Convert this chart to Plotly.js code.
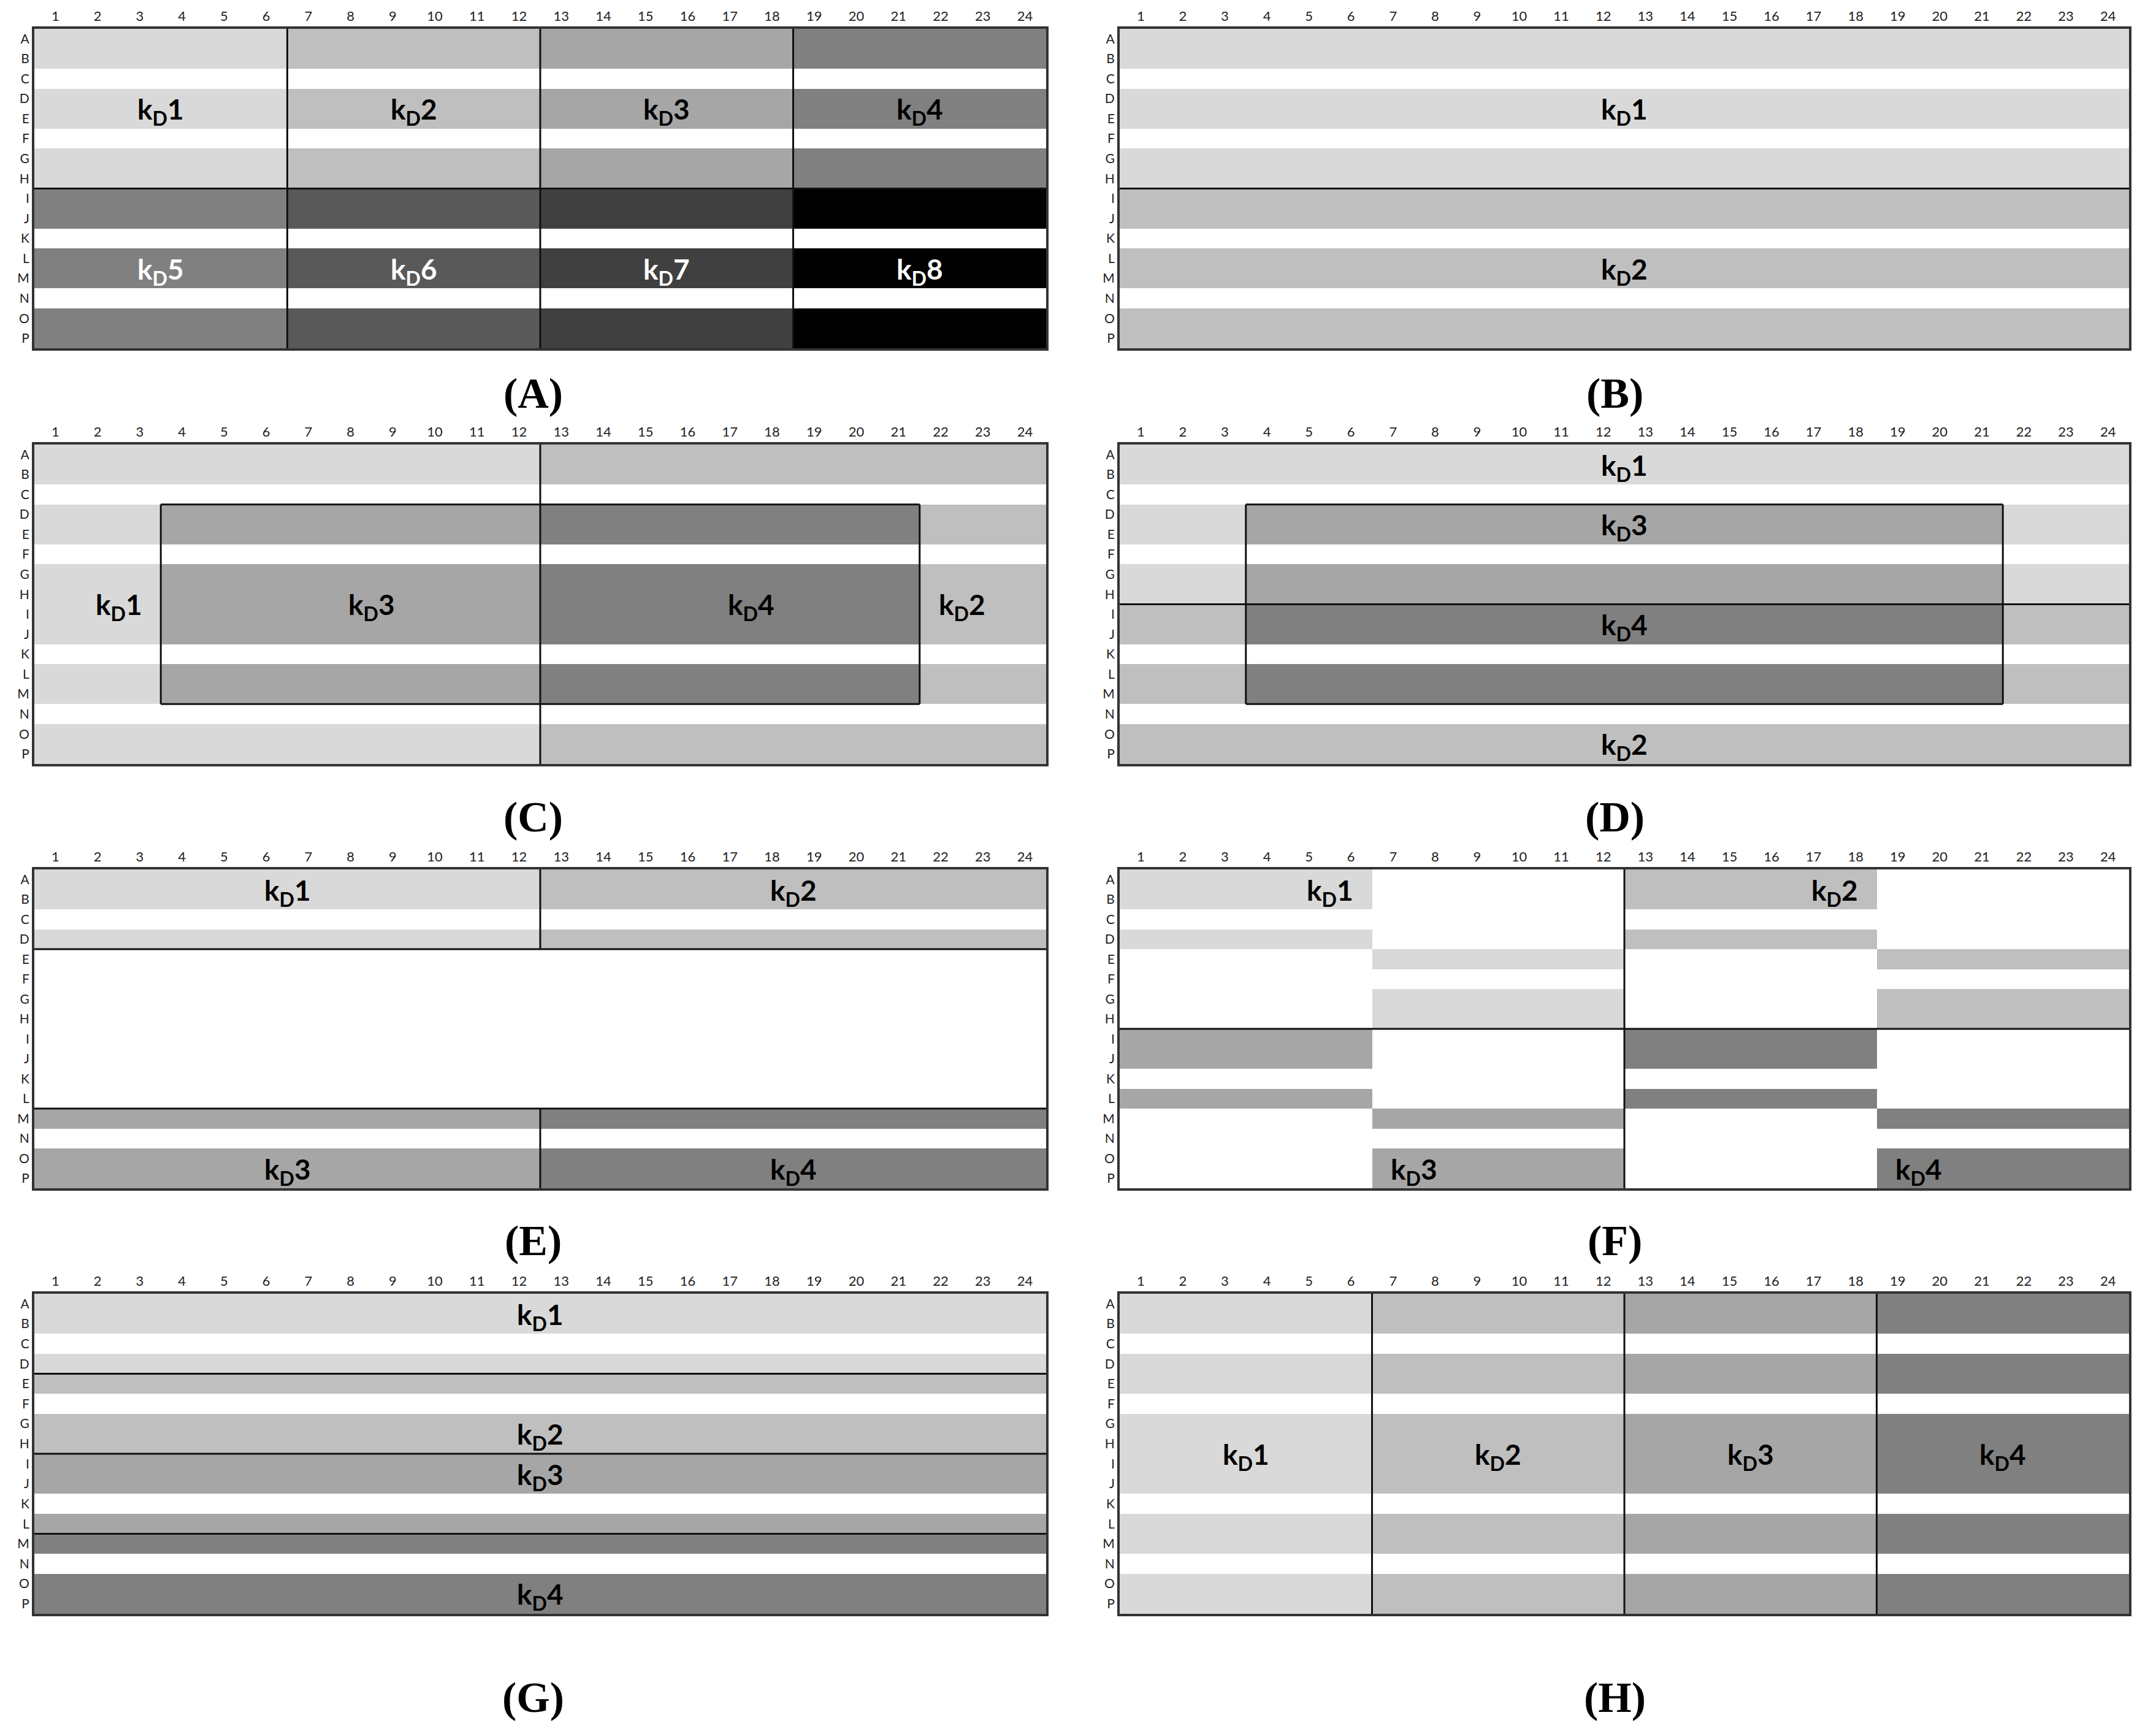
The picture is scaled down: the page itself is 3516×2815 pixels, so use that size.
<!DOCTYPE html>
<html>
<head>
<meta charset="utf-8">
<script src="https://cdn.plot.ly/plotly-3.0.1.min.js"></script>
<style>html,body{margin:0;padding:0;background:#fff;}#chart{width:3516px;height:2815px;}</style>
</head>
<body>
<div id="chart"></div>
<script>
// ---------- DATA ----------
const colLabels = ['1','2','3','4','5','6','7','8','9','10','11','12','13','14','15','16','17','18','19','20','21','22','23','24'];
const rowLabels = ['A','B','C','D','E','F','G','H','I','J','K','L','M','N','O','P'];
const panelNames = ['A','B','C','D','E','F','G','H'];
// fill level per well: 0 = empty, 1..8 = kD1..kD8
const kdColors = ['#ffffff','#d9d9d9','#bfbfbf','#a6a6a6','#808080','#808080','#595959','#404040','#000000'];

const mapA = [
 '111111222222333333444444','111111222222333333444444','000000000000000000000000',
 '111111222222333333444444','111111222222333333444444','000000000000000000000000',
 '111111222222333333444444','111111222222333333444444',
 '555555666666777777888888','555555666666777777888888','000000000000000000000000',
 '555555666666777777888888','555555666666777777888888','000000000000000000000000',
 '555555666666777777888888','555555666666777777888888'];
const groupsA = [
 '111111222222333333444444','111111222222333333444444','111111222222333333444444','111111222222333333444444',
 '111111222222333333444444','111111222222333333444444','111111222222333333444444','111111222222333333444444',
 '555555666666777777888888','555555666666777777888888','555555666666777777888888','555555666666777777888888',
 '555555666666777777888888','555555666666777777888888','555555666666777777888888','555555666666777777888888'];

const mapB = [
 '111111111111111111111111','111111111111111111111111','000000000000000000000000',
 '111111111111111111111111','111111111111111111111111','000000000000000000000000',
 '111111111111111111111111','111111111111111111111111',
 '222222222222222222222222','222222222222222222222222','000000000000000000000000',
 '222222222222222222222222','222222222222222222222222','000000000000000000000000',
 '222222222222222222222222','222222222222222222222222'];
const groupsB = [
 '111111111111111111111111','111111111111111111111111','111111111111111111111111','111111111111111111111111',
 '111111111111111111111111','111111111111111111111111','111111111111111111111111','111111111111111111111111',
 '222222222222222222222222','222222222222222222222222','222222222222222222222222','222222222222222222222222',
 '222222222222222222222222','222222222222222222222222','222222222222222222222222','222222222222222222222222'];

const mapC = [
 '111111111111222222222222','111111111111222222222222','000000000000000000000000',
 '111333333333444444444222','111333333333444444444222','000000000000000000000000',
 '111333333333444444444222','111333333333444444444222',
 '111333333333444444444222','111333333333444444444222','000000000000000000000000',
 '111333333333444444444222','111333333333444444444222','000000000000000000000000',
 '111111111111222222222222','111111111111222222222222'];
const groupsC = [
 '111111111111222222222222','111111111111222222222222','111111111111222222222222',
 '111333333333444444444222','111333333333444444444222','111333333333444444444222',
 '111333333333444444444222','111333333333444444444222','111333333333444444444222',
 '111333333333444444444222','111333333333444444444222','111333333333444444444222',
 '111333333333444444444222','111111111111222222222222','111111111111222222222222',
 '111111111111222222222222'];

const mapD = [
 '111111111111111111111111','111111111111111111111111','000000000000000000000000',
 '111333333333333333333111','111333333333333333333111','000000000000000000000000',
 '111333333333333333333111','111333333333333333333111',
 '222444444444444444444222','222444444444444444444222','000000000000000000000000',
 '222444444444444444444222','222444444444444444444222','000000000000000000000000',
 '222222222222222222222222','222222222222222222222222'];
const groupsD = [
 '111111111111111111111111','111111111111111111111111','111111111111111111111111',
 '111333333333333333333111','111333333333333333333111','111333333333333333333111',
 '111333333333333333333111','111333333333333333333111',
 '222444444444444444444222','222444444444444444444222','222444444444444444444222',
 '222444444444444444444222','222444444444444444444222',
 '222222222222222222222222','222222222222222222222222','222222222222222222222222'];

const mapE = [
 '111111111111222222222222','111111111111222222222222','000000000000000000000000',
 '111111111111222222222222','000000000000000000000000','000000000000000000000000',
 '000000000000000000000000','000000000000000000000000','000000000000000000000000',
 '000000000000000000000000','000000000000000000000000','000000000000000000000000',
 '333333333333444444444444','000000000000000000000000',
 '333333333333444444444444','333333333333444444444444'];
const groupsE = [
 '111111111111222222222222','111111111111222222222222','111111111111222222222222','111111111111222222222222',
 '999999999999999999999999','999999999999999999999999','999999999999999999999999','999999999999999999999999',
 '999999999999999999999999','999999999999999999999999','999999999999999999999999','999999999999999999999999',
 '333333333333444444444444','333333333333444444444444','333333333333444444444444','333333333333444444444444'];

const mapF = [
 '111111000000222222000000','111111000000222222000000','000000000000000000000000',
 '111111000000222222000000','000000111111000000222222','000000000000000000000000',
 '000000111111000000222222','000000111111000000222222',
 '333333000000444444000000','333333000000444444000000','000000000000000000000000',
 '333333000000444444000000','000000333333000000444444','000000000000000000000000',
 '000000333333000000444444','000000333333000000444444'];
const groupsF = [
 '111111111111222222222222','111111111111222222222222','111111111111222222222222','111111111111222222222222',
 '111111111111222222222222','111111111111222222222222','111111111111222222222222','111111111111222222222222',
 '333333333333444444444444','333333333333444444444444','333333333333444444444444','333333333333444444444444',
 '333333333333444444444444','333333333333444444444444','333333333333444444444444','333333333333444444444444'];

const mapG = [
 '111111111111111111111111','111111111111111111111111','000000000000000000000000',
 '111111111111111111111111','222222222222222222222222','000000000000000000000000',
 '222222222222222222222222','222222222222222222222222',
 '333333333333333333333333','333333333333333333333333','000000000000000000000000',
 '333333333333333333333333','444444444444444444444444','000000000000000000000000',
 '444444444444444444444444','444444444444444444444444'];
const groupsG = [
 '111111111111111111111111','111111111111111111111111','111111111111111111111111','111111111111111111111111',
 '222222222222222222222222','222222222222222222222222','222222222222222222222222','222222222222222222222222',
 '333333333333333333333333','333333333333333333333333','333333333333333333333333','333333333333333333333333',
 '444444444444444444444444','444444444444444444444444','444444444444444444444444','444444444444444444444444'];

const mapH = [
 '111111222222333333444444','111111222222333333444444','000000000000000000000000',
 '111111222222333333444444','111111222222333333444444','000000000000000000000000',
 '111111222222333333444444','111111222222333333444444',
 '111111222222333333444444','111111222222333333444444','000000000000000000000000',
 '111111222222333333444444','111111222222333333444444','000000000000000000000000',
 '111111222222333333444444','111111222222333333444444'];
const groupsH = [
 '111111222222333333444444','111111222222333333444444','111111222222333333444444','111111222222333333444444',
 '111111222222333333444444','111111222222333333444444','111111222222333333444444','111111222222333333444444',
 '111111222222333333444444','111111222222333333444444','111111222222333333444444','111111222222333333444444',
 '111111222222333333444444','111111222222333333444444','111111222222333333444444','111111222222333333444444'];

// label: [kD number, column (plate units), row (plate units)]
const labelsA = [[1,3.5,4.5],[2,9.5,4.5],[3,15.5,4.5],[4,21.5,4.5],[5,3.5,12.5],[6,9.5,12.5],[7,15.5,12.5],[8,21.5,12.5]];
const labelsB = [[1,12.5,4.5],[2,12.5,12.5]];
const labelsC = [[1,2.5,8.5],[3,8.5,8.5],[4,17.5,8.5],[2,22.5,8.5]];
const labelsD = [[1,12.5,1.5],[3,12.5,4.5],[4,12.5,9.5],[2,12.5,15.5]];
const labelsE = [[1,6.5,1.5],[2,18.5,1.5],[3,6.5,15.5],[4,18.5,15.5]];
const labelsF = [[1,5.5,1.5],[2,17.5,1.5],[3,7.5,15.5],[4,19.5,15.5]];
const labelsG = [[1,12.5,1.5],[2,12.5,7.5],[3,12.5,9.5],[4,12.5,15.5]];
const labelsH = [[1,3.5,8.5],[2,9.5,8.5],[3,15.5,8.5],[4,21.5,8.5]];

const maps = [mapA,mapB,mapC,mapD,mapE,mapF,mapG,mapH];
const groups = [groupsA,groupsB,groupsC,groupsD,groupsE,groupsF,groupsG,groupsH];
const labels = [labelsA,labelsB,labelsC,labelsD,labelsE,labelsF,labelsG,labelsH];

// ---------- LAYOUT GEOMETRY (pixels of the 3516x2815 page) ----------
const W = 3516, H = 2815;
const colX = [[56,1706],[1826,3472]];
const rowY = [[47,568],[725,1246],[1418,1938],[2110,2632]];
const tagX = [869, 2633];
const tagY = [641, 1332, 2023, 2768];

// ---------- BUILD ----------
const nLev = kdColors.length;
const colorscale = [];
kdColors.forEach((c,i)=>{ colorscale.push([i/nLev,c]); colorscale.push([(i+1)/nLev,c]); });

const xs = colLabels.map((_,i)=>i+1);
const ys = rowLabels.map((_,i)=>i+1);

const traces = [];
const annotations = [];
const layout = {
  width: W, height: H, margin:{l:0,r:0,t:0,b:0},
  paper_bgcolor:'#fff', plot_bgcolor:'#fff', showlegend:false,
  annotations: annotations, hovermode:false
};

function boundaryLines(g){
  const lx = [], ly = [];
  const nr = g.length, nc = g[0].length;
  for (let c=0; c<nc-1; c++){
    let start = -1;
    for (let r=0; r<=nr; r++){
      const diff = r<nr && g[r][c] !== g[r][c+1];
      if (diff && start<0) start = r;
      if (!diff && start>=0){ lx.push(c+1.5,c+1.5,null); ly.push(start+0.5,r+0.5,null); start=-1; }
    }
  }
  for (let r=0; r<nr-1; r++){
    let start = -1;
    for (let c=0; c<=nc; c++){
      const diff = c<nc && g[r][c] !== g[r+1][c];
      if (diff && start<0) start = c;
      if (!diff && start>=0){ lx.push(start+0.5,c+0.5,null); ly.push(r+1.5,r+1.5,null); start=-1; }
    }
  }
  return {x:lx, y:ly};
}

maps.forEach((m,i)=>{
  const k = i+1;
  const xa = 'x'+(k===1?'':k), ya = 'y'+(k===1?'':k);
  const col = i%2, row = Math.floor(i/2);
  const z = m.map(s=>s.split('').map(Number));
  traces.push({type:'heatmap', x:xs, y:ys, z:z, xaxis:xa, yaxis:ya,
    colorscale:colorscale, zmin:-0.5, zmax:nLev-0.5, showscale:false, hoverinfo:'skip'});
  const b = boundaryLines(groups[i]);
  traces.push({type:'scatter', mode:'lines', x:b.x, y:b.y, xaxis:xa, yaxis:ya,
    line:{color:'#111', width:3}, hoverinfo:'skip', connectgaps:false});
  const axx = 'xaxis'+(k===1?'':k), axy = 'yaxis'+(k===1?'':k);
  layout[axx] = {domain:[colX[col][0]/W, colX[col][1]/W], anchor:ya, side:'top',
    range:[0.5,24.5], tickmode:'array', tickvals:xs, ticktext:colLabels,
    ticks:'', showgrid:false, zeroline:false, showline:true, mirror:true,
    linecolor:'#333', linewidth:4, fixedrange:true,
    tickfont:{family:'Lato, "Open Sans", sans-serif', size:22, color:'#222'}};
  layout[axy] = {domain:[1-rowY[row][1]/H, 1-rowY[row][0]/H], anchor:xa,
    range:[16.5,0.5], tickmode:'array', tickvals:ys, ticktext:rowLabels,
    ticks:'', showgrid:false, zeroline:false, showline:true, mirror:true,
    linecolor:'#333', linewidth:4, fixedrange:true,
    tickfont:{family:'Lato, "Open Sans", sans-serif', size:21, color:'#222'}};
  labels[i].forEach(l=>{
    annotations.push({xref:xa, yref:ya, x:l[1], y:l[2], showarrow:false,
      text:'<b>k<sub>D</sub>'+l[0]+'</b>', xanchor:'center', yanchor:'middle', yshift:-4,
      font:{family:'Lato, "Open Sans", sans-serif', size:46, color: l[0]>=5 ? '#ffffff' : '#000000'}});
  });
  annotations.push({xref:'paper', yref:'paper', x:tagX[col]/W, y:1-tagY[row]/H,
    showarrow:false, text:'<b>('+panelNames[i]+')</b>', xanchor:'center', yanchor:'middle',
    font:{family:'"Liberation Serif", "Times New Roman", serif', size:70, color:'#000'}});
});

Plotly.newPlot('chart', traces, layout, {staticPlot:true, displayModeBar:false});
</script>
</body>
</html>
